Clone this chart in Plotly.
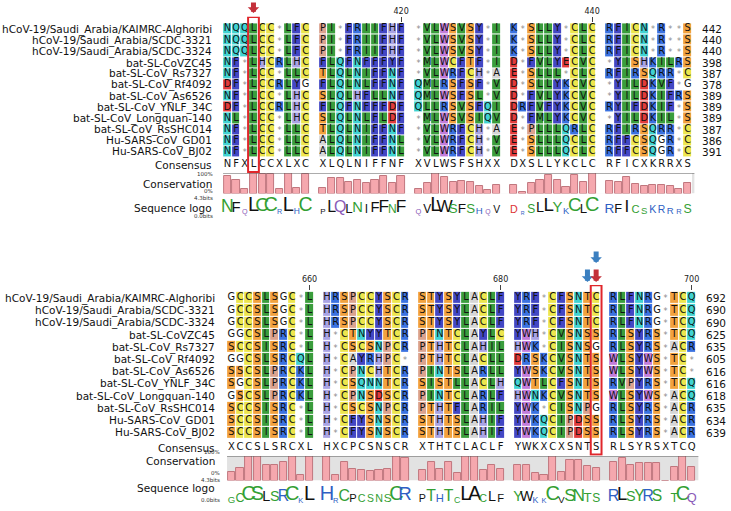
import math
import plotly.graph_objects as go

W, H = 731, 511

names = ["hCoV-19/Saudi_Arabia/KAIMRC-Alghoribi", "hCoV-19/Saudi_Arabia/SCDC-3321",
         "hCoV-19/Saudi_Arabia/SCDC-3324", "bat-SL-CoVZC45", "bat-SL-CoV_Rs7327",
         "bat-SL-CoV_Rf4092", "bat-SL-CoV_As6526", "bat-SL-CoV_YNLF_34C",
         "bat-SL-CoV_Longquan-140", "bat-SL-CoV_RsSHC014", "Hu-SARS-CoV_GD01", "Hu-SARS-CoV_BJ02"]

top_seqs = [
    "NQQLCC*LFC PI*FRIIFHF *VLWSVSY*I K*SLLY*CLC RFICN*R**S",
    "NQQLCC*LFC PI*FRIIFHF *VLWSVSY*I K*SLLY*CLC RFICN*R**S",
    "NQQLCC*LFC PI*FRIIFHF *VLWSVSY*I K*SLLY*CLC RFICN*R**S",
    "NF*LHCRLHC FLQFNFFFYF *MLWCFTF*I D*FVLYECVC *YISHKILRS",
    "NF*LCC*LLC TLQLNIFFNF *VLWRFCH*A E*SLLL*CLC RFIRSQRR*C",
    "DF*LCCRLYG FLQLNLFFNF QMLRSFSF*V D*SLLYKCVC *YILDKVF*G",
    "NF*LCC*LHC SLQLHFLLNF QMLWSFSL*V D*FVLYKCVC *YILDKIFRS",
    "DF*LCCRLHC FLQFNFFFDF QLLRSVSFQI DRFVFYKCVC RYIFDKIF*S",
    "NL*LCC*LHC SLQLNLFLDF *MLWSVSIQV D*FMLYKCVC *YILDKIL*S",
    "NF*LCC*LLC TLQLNIFFNF *VLWRFCH*A E*PLLLQRLC RFIRSQRR*C",
    "NF*LCC*LLC ALQLNIFFNL *VLWRFCH*V E*SLLLQCLC RFFCSQGR*C",
    "NF*LCC*LLC ALQLNIFFNL *VLWRFCH*V E*SLLLQCLC RFFCSQGR*C",
]
top_ends = [442, 440, 440, 398, 387, 378, 389, 389, 389, 387, 386, 391]
top_consensus = "NFXLCCXLXC XLQLNIFFNF XVLWSFSHXX DXSLLYKCLC RFICXKRRXS"
top_conservation = [85, 68, 20, 100, 95, 97, 20, 100, 28, 97,
                    25, 75, 75, 58, 67, 50, 67, 83, 50, 83,
                    22, 50, 100, 82, 58, 60, 58, 35, 18, 40,
                    42, 8, 50, 65, 92, 68, 33, 92, 58, 100,
                    60, 55, 82, 45, 35, 42, 40, 35, 22, 52]
top_logo = "NFQLCCRLHC PLQLNIFFNF QVLWSFSHQV DRSLLYKCLC RFICSKRRRS"
top_start = 401
top_ruler = [420, 440]

bot_seqs = [
    "GCCSLSGC*L HRSPCCYSCR STYSYLACLF YRF*CFSNTC RLFNRG*TCQ",
    "GCCSLSGC*L HRSPCCYSCR STYSYLACLF YRF*CFSNTC RLFNRG*TCQ",
    "GCCSLSGC*L HRSPCCYSCR STYSYLACLF YRF*CFSNTC RLFNRG*TCQ",
    "GGCSLPRC*L H*CTNYYTCR PTNTCLAYLC YWH*CVSNSS RLSYRS*TCQ",
    "SCCSISRC*L H*CSCSNPCR PTHTCLAHIL HWK*CISNSG RLSYRS*ACR",
    "GGCSLSRCQL H*CAYRHPC* PTHTCLACLL DRSKCVSNTS WLSYWS*TC*",
    "SSCSLPRCKL H*CPNCHTCR PINTSLARLL YWSKCVSNTS WLSYWS*TC*",
    "SGCSLPRCKL H*CSQNNTCR SISTLLACLH QWTLCFSNTS RVPYRS*TCQ",
    "GSCSLPRCKL H*CPNSDSCR PINTCLARLF HWNKCVSNTS WLSYWS*ACQ",
    "SCCSISRC*L H*CSCSNPCR PTHTFLARIL YWK*CISNPG RLSYRS*ACR",
    "SCCSISRC*L H*CFYSNSCR STHTSLAHIF YWKQCIPDSS RLSYRS*ACR",
    "SCCSISRC*L H*CFYSNSCR STHTSLAHIF YWKQCIPDSS RLSYRS*ACR",
]
bot_ends = [692, 690, 690, 625, 635, 605, 616, 616, 618, 635, 634, 639]
bot_consensus = "XCCSLSRCXL HXCPCSNSCR XTHTCLACLF YWKXCXSNTS RLSYRSXTCQ"
bot_conservation = [35, 53, 100, 100, 65, 65, 74, 100, 22, 100,
                    100, 22, 74, 45, 42, 40, 42, 49, 100, 92,
                    42, 74, 45, 74, 30, 100, 100, 42, 65, 45,
                    65, 65, 30, 22, 100, 35, 83, 83, 58, 50,
                    76, 90, 65, 73, 73, 73, 0, 55, 100, 55]
bot_logo = "GCCSLSRCKL HRCPCSNSCR PTHTCLACLF YWKKCVSNTS RLSYRS-TCQ"
bot_start = 651
bot_ruler = [660, 680, 700]

# residue colour scheme (cells) and logo colours
cell_groups = [("LIVM", "#3a9d3c"), ("FY", "#4347c4"), ("RK", "#3b72e0"), ("H", "#a9a3e4"),
               ("C", "#ede64e"), ("ST", "#f2a23e"), ("NQ", "#40d2d2"), ("W", "#c27cda"),
               ("P", "#dba28e"), ("A", "#d6d6d6"), ("DE", "#e23b3b")]
logo_groups = [("GSTYCN", "#33a033"), ("Q", "#8a5ab8"), ("KRH", "#2f5fc4"), ("DE", "#d33"),
               ("AVLIPWFM", "#111111")]


def px_x(v):
    return v / W


def px_y(v):
    return 1 - v / H


def disp(c):
    return c + c // 10


fig = go.Figure()
n_col = len(cell_groups)
cscale = []
for i, (_, col) in enumerate(cell_groups):
    cscale.append([i / n_col, col])
    cscale.append([(i + 1) / n_col, col])


def code_of(ch):
    for i, (letters, _) in enumerate(cell_groups):
        if ch in letters:
            return i
    return None


def logo_color(ch):
    for letters, col in logo_groups:
        if ch in letters:
            return col
    return "#111"


blocks = [
    dict(seqs=top_seqs, ends=top_ends, cons=top_consensus, cv=top_conservation, logo=top_logo,
         start=top_start, ruler=top_ruler, xl=224, pitch=8.72, row0=29, rowh=11.18,
         ytop=-1.1, ybot=12.9, cons_row=12.16, cv_t=173, cv_b=193.5, lg_t=197, lg_b=216,
         lab_r=215, small_r=216, num_l=703, box_c=3, box_y=(-1.07, 12.8),
         arrows=[(3, 13, 1, "#c4303a")], ax_ids=("", "2", "3")),
    dict(seqs=bot_seqs, ends=bot_ends, cons=bot_consensus, cv=bot_conservation, logo=bot_logo,
         start=bot_start, ruler=bot_ruler, xl=228, pitch=8.72, row0=298, rowh=12.27,
         ytop=-1.06, ybot=12.85, cons_row=12.22, cv_t=456, cv_b=480.5, lg_t=484, lg_b=505,
         lab_r=218, small_r=223, num_l=707, box_c=39, box_y=(-1.04, 12.75),
         arrows=[(38, 282, 268, "#3b7fc0"), (39, 282, 268, "#c4303a"), (39, 263, 250, "#3b7fc0")],
         ax_ids=("4", "5", "6")),
]

annotations = []
shapes = []
layout_axes = {}
base_font = "DejaVu Sans"

for b in blocks:
    sx, cx, lx = b["ax_ids"]
    seqs = [s.replace(" ", "") for s in b["seqs"]]
    cons = b["cons"].replace(" ", "")
    logo = b["logo"].replace(" ", "")
    ncol = len(seqs[0])
    ndisp = disp(ncol - 1) + 1
    xdom = [px_x(b["xl"]), px_x(b["xl"] + ndisp * b["pitch"])]
    xr = [-0.5, ndisp - 0.5]
    y_top_px = b["row0"] + b["ytop"] * b["rowh"]
    y_bot_px = b["row0"] + b["ybot"] * b["rowh"]

    # heatmap of cells
    z = []
    for s in seqs:
        row = [None] * ndisp
        for c, ch in enumerate(s):
            row[disp(c)] = code_of(ch)
        z.append(row)
    xa = "x" + sx
    ya = "y" + sx
    fig.add_trace(go.Heatmap(z=z, x=list(range(ndisp)), y=list(range(len(seqs))),
                             colorscale=cscale, zmin=-0.5, zmax=n_col - 0.5, showscale=False,
                             xgap=1, ygap=1, hoverinfo="skip", xaxis=xa, yaxis=ya))
    # letters
    tx, ty, tt, tc, ts = [], [], [], [], []
    for r, s in enumerate(seqs):
        for c, ch in enumerate(s):
            tx.append(disp(c))
            ty.append(r + (0.12 if ch == "*" else 0))
            tt.append(ch)
            tc.append("#8a8a8a" if ch == "*" else "#111")
            ts.append(8 if ch == "*" else 9.8)
    fig.add_trace(go.Scatter(x=tx, y=ty, text=tt, mode="text", xaxis=xa, yaxis=ya,
                             textfont=dict(family=base_font, size=ts, color=tc),
                             hoverinfo="skip", cliponaxis=False, showlegend=False))
    # consensus
    fig.add_trace(go.Scatter(x=[disp(c) for c in range(ncol)], y=[b["cons_row"]] * ncol,
                             text=list(cons), mode="text", xaxis=xa, yaxis=ya,
                             textfont=dict(family=base_font, size=10, color="#111"),
                             hoverinfo="skip", cliponaxis=False, showlegend=False))
    # conservation bars
    fig.add_trace(go.Bar(x=[disp(c) for c in range(ncol)], y=b["cv"], width=0.82,
                         marker=dict(color="#f5a8ae", line=dict(color="#c0777e", width=1)),
                         xaxis="x" + cx, yaxis="y" + cx, hoverinfo="skip", showlegend=False))
    # sequence logo
    lgx, lgt, lgs, lgc = [], [], [], []
    for c, ch in enumerate(logo):
        if ch == "-":
            continue
        lgx.append(disp(c))
        lgt.append(ch)
        lgs.append(4 + 0.16 * b["cv"][c])
        lgc.append(logo_color(ch))
    fig.add_trace(go.Scatter(x=lgx, y=[0] * len(lgx), text=lgt, mode="text",
                             textposition="top center", xaxis="x" + lx, yaxis="y" + lx,
                             textfont=dict(family="Liberation Sans Narrow, Liberation Sans", size=lgs, color=lgc),
                             hoverinfo="skip", cliponaxis=False, showlegend=False))

    # axes
    ruler_cols = [disp(p - b["start"]) for p in b["ruler"]]
    layout_axes["xaxis" + sx] = dict(domain=xdom, range=xr, side="top", anchor=ya,
                                     tickvals=ruler_cols, ticktext=[str(p) for p in b["ruler"]],
                                     ticks="inside", ticklen=5, tickwidth=1, tickcolor="#444",
                                     tickfont=dict(family=base_font, size=8, color="#222"),
                                     showgrid=False, zeroline=False, showline=False, fixedrange=True)
    layout_axes["yaxis" + sx] = dict(domain=[px_y(y_bot_px), px_y(y_top_px)], range=[b["ybot"], b["ytop"]],
                                     visible=False, anchor=xa, fixedrange=True)
    for aid, t, bt, rng in ((cx, b["cv_t"], b["cv_b"], [0, 100]), (lx, b["lg_t"], b["lg_b"], [0, 4.3])):
        layout_axes["xaxis" + aid] = dict(domain=xdom, range=xr, visible=False, anchor="y" + aid, fixedrange=True)
        layout_axes["yaxis" + aid] = dict(domain=[px_y(bt), px_y(t)], range=rng, visible=False,
                                          anchor="x" + aid, fixedrange=True)

    # conservation background
    shapes.append(dict(type="rect", xref="x" + cx + " domain", yref="y" + cx, x0=0, x1=1.005, y0=0, y1=100,
                       fillcolor="#e2e2e2", line=dict(width=0), layer="below"))
    shapes.append(dict(type="line", xref="x" + cx + " domain", yref="y" + cx, x0=0, x1=1.005, y0=100, y1=100,
                       line=dict(color="#5a5a5a", width=1.2), layer="above"))
    # red highlight box
    bc = disp(b["box_c"])
    shapes.append(dict(type="rect", xref=xa, yref=ya, x0=bc - 0.62, x1=bc + 0.62,
                       y0=b["box_y"][0], y1=b["box_y"][1], line=dict(color="#e0262b", width=2),
                       fillcolor="rgba(0,0,0,0)", layer="above"))

    # row labels and end numbers
    for r, nm in enumerate(names):
        annotations.append(dict(x=px_x(b["lab_r"]), xref="paper", xanchor="right", y=r, yref=ya,
                                text=nm, showarrow=False, font=dict(family=base_font, size=10.5, color="#111")))
        annotations.append(dict(x=px_x(b["num_l"]), xref="paper", xanchor="left", y=r, yref=ya,
                                text=str(b["ends"][r]), showarrow=False,
                                font=dict(family=base_font, size=10.5, color="#111")))
    annotations.append(dict(x=px_x(b["lab_r"]), xref="paper", xanchor="right", y=b["cons_row"], yref=ya,
                            text="Consensus", showarrow=False, font=dict(family=base_font, size=10.5, color="#111")))
    annotations.append(dict(x=px_x(b["lab_r"]), xref="paper", xanchor="right",
                            y=px_y((b["cv_t"] + b["cv_b"]) / 2 + 1), yref="paper",
                            text="Conservation", showarrow=False, font=dict(family=base_font, size=10.5, color="#111")))
    annotations.append(dict(x=px_x(b["lab_r"]), xref="paper", xanchor="right",
                            y=px_y((b["lg_t"] + b["lg_b"]) / 2 + 1), yref="paper",
                            text="Sequence logo", showarrow=False, font=dict(family=base_font, size=10.5, color="#111")))
    for txt, yy in (("100%", b["cv_t"] + 0.5), ("0%", b["cv_b"] - 2.5), ("4.3bits", b["lg_t"] + 1),
                    ("0.0bits", b["lg_b"] - 0.5)):
        annotations.append(dict(x=px_x(b["small_r"]), xref="paper", xanchor="right", y=px_y(yy), yref="paper",
                                text=txt, showarrow=False, font=dict(family=base_font, size=5.5, color="#333")))
    # arrows
    for col, tip, tail, colr in b["arrows"]:
        annotations.append(dict(x=disp(col), xref=xa, y=px_y(tip), yref="paper", ax=0, ay=-(tip - tail),
                                text="", showarrow=True, arrowhead=1, arrowsize=0.38, arrowwidth=5,
                                arrowcolor=colr, standoff=0))

fig.update_layout(width=W, height=H, autosize=False, margin=dict(l=0, r=0, t=0, b=0),
                  paper_bgcolor="white", plot_bgcolor="white", showlegend=False,
                  annotations=annotations, shapes=shapes, bargap=0, **layout_axes)

fig.write_html("out.html", config={"displayModeBar": False},
               post_script="document.body.style.margin='0';")
